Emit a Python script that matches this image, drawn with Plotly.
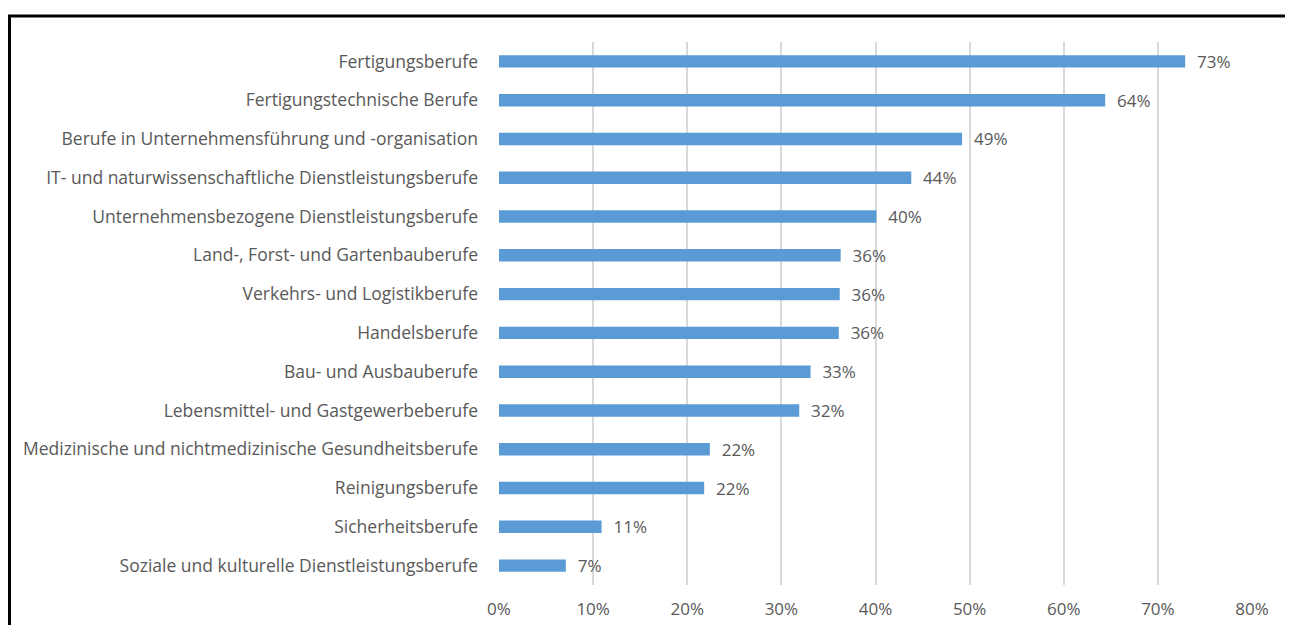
import plotly.graph_objects as go

categories = [
    "Fertigungsberufe",
    "Fertigungstechnische Berufe",
    "Berufe in Unternehmensführung und -organisation",
    "IT- und naturwissenschaftliche Dienstleistungsberufe",
    "Unternehmensbezogene Dienstleistungsberufe",
    "Land-, Forst- und Gartenbauberufe",
    "Verkehrs- und Logistikberufe",
    "Handelsberufe",
    "Bau- und Ausbauberufe",
    "Lebensmittel- und Gastgewerbeberufe",
    "Medizinische und nichtmedizinische Gesundheitsberufe",
    "Reinigungsberufe",
    "Sicherheitsberufe",
    "Soziale und kulturelle Dienstleistungsberufe",
]
values = [0.729, 0.644, 0.492, 0.438, 0.401, 0.363, 0.362, 0.361, 0.331, 0.319, 0.224, 0.218, 0.109, 0.071]
x_ticks = [0, 0.1, 0.2, 0.3, 0.4, 0.5, 0.6, 0.7, 0.8]
x_tick_labels = ["0%", "10%", "20%", "30%", "40%", "50%", "60%", "70%", "80%"]

FONT = "Open Sans, Noto Sans, sans-serif"
GRAY = "#595959"

fig = go.Figure(
    go.Bar(
        x=values,
        y=categories,
        orientation="h",
        marker=dict(color="#5B9BD5", line=dict(width=0)),
        width=0.32,
        texttemplate="\u00a0\u00a0%{x:.0%}",
        textposition="outside",
        constraintext="none",
        textfont=dict(family=FONT, size=17, color=GRAY),
        cliponaxis=False,
        hoverinfo="skip",
    )
)

# page body has an 8px margin, so the figure starts at (8, 8)
W, H = 1285, 617
ML, MR, MT, MB = 491, 41, 34, 40
fig.update_layout(
    width=W,
    height=H,
    autosize=False,
    margin=dict(l=ML, r=MR, t=MT, b=MB),
    plot_bgcolor="white",
    paper_bgcolor="white",
    showlegend=False,
    font=dict(family=FONT, size=17, color=GRAY),
    xaxis=dict(
        range=[0, 0.8],
        tickvals=x_ticks,
        ticktext=x_tick_labels,
        showgrid=True,
        gridcolor="#d9d9d9",
        gridwidth=1.5,
        zeroline=False,
        showline=False,
        ticks="",
        tickfont=dict(family=FONT, size=17, color=GRAY),
        ticklabelstandoff=12,
        automargin=False,
    ),
    yaxis=dict(
        autorange="reversed",
        showgrid=False,
        zeroline=False,
        showline=False,
        ticks="",
        tickfont=dict(family=FONT, size=17.5, color=GRAY),
        ticklabelstandoff=20,
        automargin=False,
    ),
)

# chart frame (extends beyond the visible area at right and bottom)
pw = W - ML - MR
ph = H - MT - MB
fig.add_shape(
    type="rect",
    xref="paper",
    yref="paper",
    x0=(1.5 - ML) / pw,
    x1=1.2,
    y0=-0.3,
    y1=1 + (MT - 8) / ph,
    line=dict(color="black", width=3),
    fillcolor="rgba(0,0,0,0)",
    layer="above",
)

fig.write_html("out.html")
